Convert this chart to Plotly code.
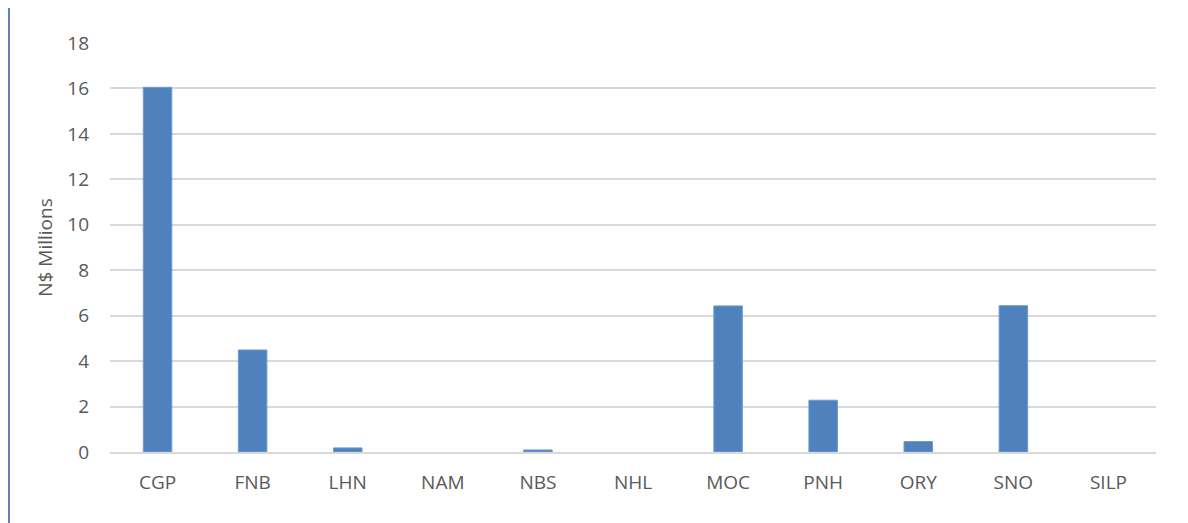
import plotly.graph_objects as go

categories = ["CGP", "FNB", "LHN", "NAM", "NBS", "NHL", "MOC", "PNH", "ORY", "SNO", "SILP"]
values = [16.05, 4.49, 0.18, 0.0, 0.09, 0.0, 6.43, 2.28, 0.46, 6.44, 0.0]
y_ticks = [0, 2, 4, 6, 8, 10, 12, 14, 16, 18]

fig = go.Figure()
fig.add_trace(go.Bar(
    x=categories, y=values,
    marker=dict(color="#4f81bd",
                line=dict(color="#6f9bd1", width=[0 if v == 0 else 1 for v in values])),
    width=0.30,
))

# page body has an 8px default margin, so offset accordingly
L, R, T, B = 102, 40, 35, 79
W, H = 1188, 523
pw = W - L - R
ph = H - T - B

fig.update_layout(
    width=W, height=H,
    margin=dict(l=L, r=R, t=T, b=B),
    paper_bgcolor="white", plot_bgcolor="white",
    font=dict(family="Open Sans, Liberation Sans, sans-serif", color="#595959", size=19),
    showlegend=False,
    xaxis=dict(showgrid=False, showline=True, linecolor="#d9d9d9", linewidth=1.5,
               ticks="", tickfont=dict(size=19, color="#595959"), ticklabelstandoff=12),
    yaxis=dict(range=[0, 18], tickvals=y_ticks, showgrid=True, gridcolor="#d9d9d9", gridwidth=1.5,
               zeroline=False, ticks="", tickfont=dict(size=19, color="#595959"), ticklabelstandoff=20,
               title=dict(text="N$ Millions", font=dict(size=19, color="#595959"), standoff=9)),
    shapes=[dict(type="line", xref="paper", yref="paper",
                 x0=(1 - L) / pw, x1=(1 - L) / pw, y0=-B / ph, y1=(H - T) / ph,
                 line=dict(color="#2f5597", width=1.5))],
)

fig.write_html("out.html")
